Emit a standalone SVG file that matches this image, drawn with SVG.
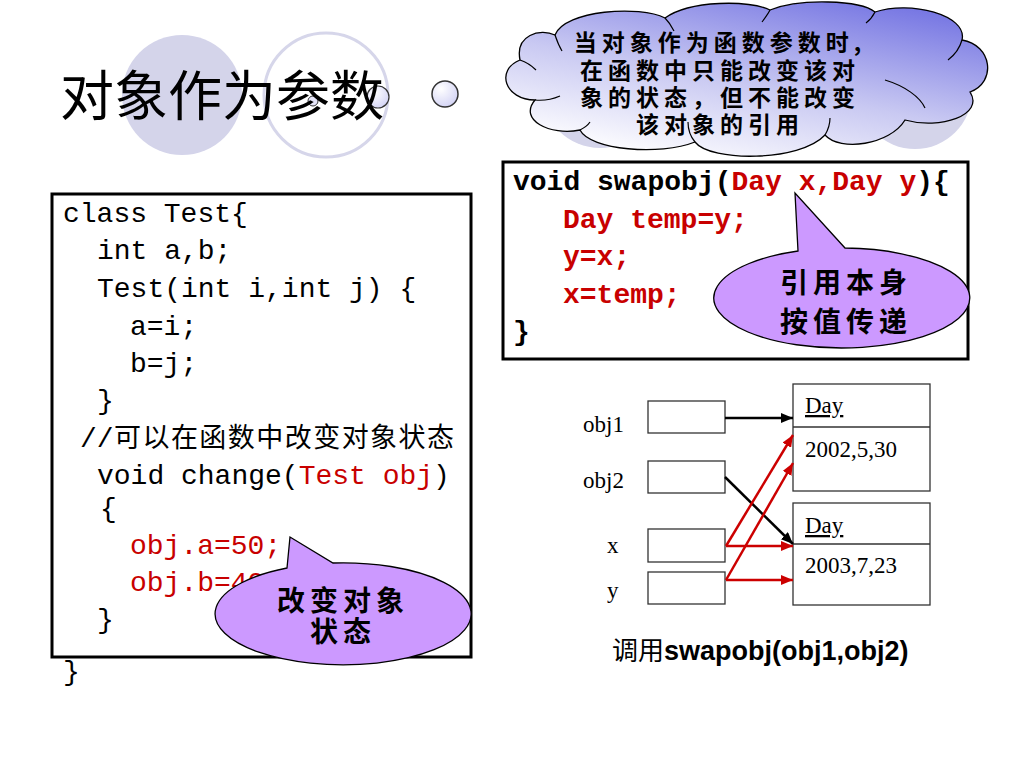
<svg xmlns="http://www.w3.org/2000/svg" width="1024" height="768" viewBox="0 0 1024 768">
<defs>
<style>
.cjk{font-family:"Noto Sans CJK SC","Noto Sans",sans-serif;}
.mono{font-family:"Liberation Mono","Courier New",monospace;font-size:28px;}
.monob{font-family:"Liberation Mono","Courier New",monospace;font-size:28px;font-weight:bold;}
.red{fill:#c80000;}
.serif{font-family:"Liberation Serif","Times New Roman",serif;font-size:23px;fill:#000;}
.box{fill:#fff;stroke:#000;stroke-width:3;}
.cell{fill:#fff;stroke:#333;stroke-width:1.3;}
.deco{fill:#d4d4ea;}
.callout{fill:#cc99ff;stroke:#000;stroke-width:1.3;}
.ctext{font-family:"Noto Sans CJK SC",sans-serif;font-size:28px;font-weight:bold;letter-spacing:5px;text-anchor:middle;fill:#000;}
.crease{fill:none;stroke:#000;stroke-width:1.2;}
.blk{stroke:#000;stroke-width:2.5;fill:none;}
.rd{stroke:#cc0000;stroke-width:2.5;fill:none;}
</style>
<linearGradient id="cloudGrad" x1="0.25" y1="1" x2="0.85" y2="0">
<stop offset="0" stop-color="#ffffff"/>
<stop offset="0.45" stop-color="#c9c9f2"/>
<stop offset="1" stop-color="#7272e2"/>
</linearGradient>
<radialGradient id="bulletGrad" cx="0.35" cy="0.3" r="0.8">
<stop offset="0" stop-color="#ffffff"/>
<stop offset="1" stop-color="#d0d0f4"/>
</radialGradient>
<marker id="ahB" viewBox="0 0 12 10" refX="12" refY="5" markerWidth="12" markerHeight="10" markerUnits="userSpaceOnUse" orient="auto">
<path d="M0,0 L12,5 L0,10 Z" fill="#000"/>
</marker>
<marker id="ahR" viewBox="0 0 12 10" refX="12" refY="5" markerWidth="12" markerHeight="10" markerUnits="userSpaceOnUse" orient="auto">
<path d="M0,0 L12,5 L0,10 Z" fill="#cc0000"/>
</marker>
</defs>
<rect width="1024" height="768" fill="#fff"/>

<g id="decoration">
<circle class="deco" cx="182" cy="95" r="60"/>
<circle cx="326" cy="95" r="62" fill="none" stroke="#d6d6ea" stroke-width="3"/>
<circle cx="313" cy="101" r="5" fill="#e4e4f8" stroke="#333" stroke-width="1"/>
<circle cx="378" cy="97" r="11" fill="url(#bulletGrad)" stroke="#333" stroke-width="1.2"/>
<circle cx="445" cy="94" r="13" fill="url(#bulletGrad)" stroke="#333" stroke-width="1.5"/>
<circle class="deco" cx="600" cy="90" r="58"/>
<circle class="deco" cx="915" cy="92" r="57"/>
</g>

<g id="title">
<text x="60" y="116" class="cjk" font-size="54" fill="#000">对象作为参数</text>
</g>

<g id="cloud">
<path d="M 535,100 C 505,100 495,70 520,60 C 515,35 540,28 555,35 C 565,10 640,5 665,18 C 690,0 750,0 770,10 C 800,-2 860,0 875,12 C 910,0 968,15 962,40 C 992,45 997,82 970,92 C 985,115 940,130 905,120 C 890,145 840,152 825,135 C 800,162 710,162 695,142 C 660,156 590,150 580,130 C 550,136 518,120 535,100 Z" fill="url(#cloudGrad)" stroke="#000" stroke-width="1.3"/>
<path class="crease" d="M 535,100 C 545,101 553,99 560,96"/>
<path class="crease" d="M 520,60 C 526,62 532,66 536,70"/>
<path class="crease" d="M 555,35 C 557,41 559,46 562,51"/>
<path class="crease" d="M 665,18 C 669,22 672,27 674,31"/>
<path class="crease" d="M 770,10 C 768,14 765,18 762,22"/>
<path class="crease" d="M 875,12 C 873,16 870,20 866,23"/>
<path class="crease" d="M 962,40 C 960,47 956,54 948,60"/>
<path class="crease" d="M 885,80 C 905,86 920,97 925,108"/>
<path class="crease" d="M 825,135 C 828,130 830,124 830,118"/>
<path class="crease" d="M 695,142 C 690,136 688,129 688,122"/>
<path class="crease" d="M 580,130 C 584,128 588,125 590,122"/>
<g class="cjk" font-size="23" font-weight="bold" text-anchor="middle" letter-spacing="5" fill="#000">
<text x="720" y="51">当对象作为函数参数时,</text>
<text x="720" y="79">在函数中只能改变该对</text>
<text x="720" y="106">象的状态，但不能改变</text>
<text x="720" y="133">该对象的引用</text>
</g>
</g>

<g id="code-left">
<rect class="box" x="52" y="194" width="419" height="463"/>
<g class="mono" fill="#000">
<text x="63" y="222">class Test{</text>
<text x="97" y="259">int a,b;</text>
<text x="97" y="297">Test(int i,int j) {</text>
<text x="130" y="335">a=i;</text>
<text x="130" y="372">b=j;</text>
<text x="97" y="409">}</text>
<text x="80" y="447">//</text>
<text x="114" y="447" class="cjk" font-size="27" textLength="340" lengthAdjust="spacing">可以在函数中改变对象状态</text>
<text x="97" y="484">void change(<tspan class="red">Test obj</tspan>)</text>
<text x="100" y="517">{</text>
<text x="130" y="554" class="red">obj.a=50;</text>
<text x="130" y="591" class="red">obj.b=40;</text>
<text x="97" y="628">}</text>
<text x="63" y="680">}</text>
</g>
</g>

<g id="callout-left">
<path class="callout" d="M 287,568 L 290,537 L 333,563 A 128,51 0 1 1 287,568 Z"/>
<text class="ctext" x="343" y="611">改变对象</text>
<text class="ctext" x="343" y="642">状态</text>
</g>

<g id="code-right">
<rect class="box" x="503" y="162" width="465" height="197"/>
<g class="monob" fill="#000">
<text x="513" y="190">void swapobj(<tspan class="red">Day x,Day y</tspan>){</text>
<text x="563" y="228" class="red">Day temp=y;</text>
<text x="563" y="265" class="red">y=x;</text>
<text x="563" y="303" class="red">x=temp;</text>
<text x="513" y="340">}</text>
</g>
</g>

<g id="callout-right">
<path class="callout" d="M 798,251 L 795,193 L 845,248 A 128,50 0 1 1 798,251 Z"/>
<text class="ctext" x="846" y="293">引用本身</text>
<text class="ctext" x="846" y="332">按值传递</text>
</g>

<g id="obj1">
<text class="serif" x="583" y="432">obj1</text>
<rect class="cell" x="648" y="401" width="77" height="32"/>
</g>
<g id="obj2">
<text class="serif" x="583" y="488">obj2</text>
<rect class="cell" x="648" y="461" width="77" height="32"/>
</g>
<g id="var-x">
<text class="serif" x="607" y="553">x</text>
<rect class="cell" x="648" y="529" width="77" height="33"/>
</g>
<g id="var-y">
<text class="serif" x="607" y="598">y</text>
<rect class="cell" x="648" y="572" width="77" height="32"/>
</g>

<g id="day1">
<rect class="cell" x="793" y="384" width="137" height="107"/>
<line x1="793" y1="427" x2="930" y2="427" stroke="#333" stroke-width="1.3"/>
<text class="serif" x="805" y="413" text-decoration="underline">Day</text>
<text class="serif" x="805" y="457">2002,5,30</text>
</g>
<g id="day2">
<rect class="cell" x="793" y="503" width="137" height="102"/>
<line x1="793" y1="544" x2="930" y2="544" stroke="#333" stroke-width="1.3"/>
<text class="serif" x="805" y="533" text-decoration="underline">Day</text>
<text class="serif" x="805" y="573">2003,7,23</text>
</g>

<g id="connectors">
<line class="blk" x1="725" y1="418" x2="793" y2="418" marker-end="url(#ahB)"/>
<line class="blk" x1="725" y1="477" x2="793" y2="544" marker-end="url(#ahB)"/>
<line class="rd" x1="726" y1="546" x2="793" y2="546" marker-end="url(#ahR)"/>
<line class="rd" x1="726" y1="546" x2="793" y2="435" marker-end="url(#ahR)"/>
<line class="rd" x1="726" y1="580" x2="793" y2="580" marker-end="url(#ahR)"/>
<line class="rd" x1="726" y1="580" x2="793" y2="463" marker-end="url(#ahR)"/>
</g>

<g id="caption">
<text x="612" y="660" fill="#000"><tspan class="cjk" font-size="26">调用</tspan><tspan font-family="Liberation Sans, Arial, sans-serif" font-size="27" font-weight="bold">swapobj(obj1,obj2)</tspan></text>
</g>
</svg>
